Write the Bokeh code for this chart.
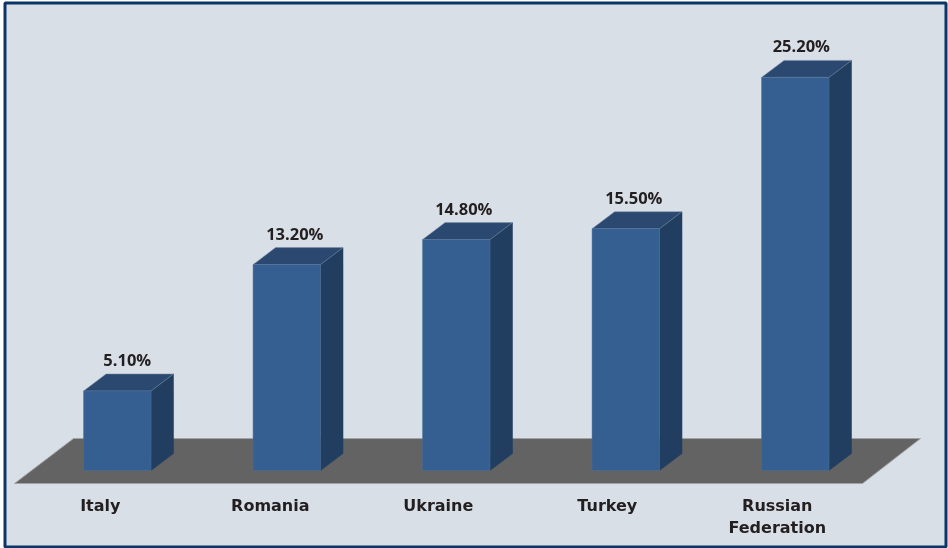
from bokeh.plotting import figure
from bokeh.models import Range1d
from bokeh.core.properties import value
from bokeh.embed import file_html
from bokeh.resources import INLINE

categories = ["Italy", "Romania", "Ukraine", "Turkey", "Russian\nFederation"]
shares = [5.1, 13.2, 14.8, 15.5, 25.2]
value_labels = ["5.10%", "13.20%", "14.80%", "15.50%", "25.20%"]

W, H = 948, 548
PX_X = 169.5      # pixels per category
PX_Y = 15.6       # pixels per percentage point
X0, Y0 = 116.8, 470 # pixel position of first category / zero line

def dx(px):
    return (px - X0) / PX_X

def dy(py):
    return (Y0 - py) / PX_Y

p = figure(width=W, height=H, output_backend="svg", toolbar_location=None,
           x_range=Range1d(dx(0), dx(W)), y_range=Range1d(dy(H), dy(0)),
           min_border=0, min_border_left=0, min_border_right=0,
           min_border_top=0, min_border_bottom=0)
p.styles = {"position": "fixed", "left": "0", "top": "0"}
p.axis.visible = False
p.grid.visible = False
p.outline_line_color = None
p.background_fill_color = "#ffffff"
p.border_fill_color = "#ffffff"

# panel
p.quad(left=[dx(4.5)], right=[dx(945.5)], top=[dy(2.5)], bottom=[dy(546.5)],
       fill_color="#d9dfe7", line_color="#0a3566", line_width=3)

# floor
p.patch([dx(14), dx(862), dx(920), dx(73)], [dy(483), dy(483), dy(438), dy(438)],
        fill_color="#636363", line_color="#a0a3a6", line_width=1)

half = 0.199
depth_x = 22.5 / PX_X
depth_y = 17 / PX_Y

for i, v in enumerate(shares):
    l, r = i - half, i + half
    # side
    p.patch([r, r + depth_x, r + depth_x, r],
            [0, depth_y, v + depth_y, v],
            fill_color="#213e60", line_color="#213e60", line_width=0.5)
    # top
    p.patch([l, r, r + depth_x, l + depth_x],
            [v, v, v + depth_y, v + depth_y],
            fill_color="#2a4870", line_color="#7d8ea6", line_width=0.5)
    # front
    p.quad(left=[l], right=[r], top=[v], bottom=[0],
           fill_color="#365f91", line_color="#4f7099", line_width=0.5)

value_dx = [10, 8, 7.5, 8, 6]
p.text(x=[i + value_dx[i] / PX_X for i in range(5)],
       y=[v + 31.5 / PX_Y for v in shares],
       text=value_labels, text_font=value("Open Sans"), text_font_style="bold",
       text_font_size="16.5px", text_color="#231f20",
       text_align="center", text_baseline="middle")

label_dx = [-17, -16.5, -18, -18.5]
p.text(x=[i + label_dx[i] / PX_X for i in range(4)],
       y=[dy(504.5)] * 4,
       text=categories[:4], text_font=value("DejaVu Sans"), text_font_style="bold",
       text_font_size="16px", text_color="#231f20",
       text_align="center", text_baseline="middle")
russian, federation = categories[4].split("\n")
p.text(x=[4 - 18 / PX_X] * 2, y=[dy(504.5), dy(526.5)], text=[russian, federation],
       text_font=value("DejaVu Sans"), text_font_style="bold", text_font_size="16px",
       text_color="#231f20", text_align="center", text_baseline="middle")

open("out.html", "w").write(file_html(p, INLINE))
